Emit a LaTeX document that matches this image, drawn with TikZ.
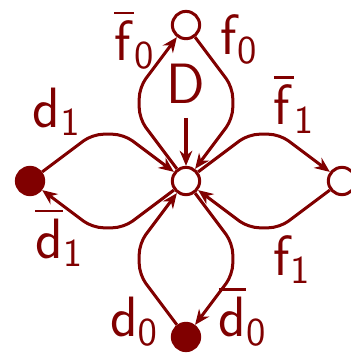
\documentclass[tikz,border=0pt]{standalone}
\usepackage{amsmath,amssymb}
\usepackage{exscale}
\usepackage{tikz}
\usetikzlibrary{positioning,arrows.meta,calc}
\definecolor{figred}{RGB}{128,0,0}
\tikzset{
  figstate/.style={circle, draw=figred, fill=white, line width=1.1pt,
    minimum size=3.5mm, inner sep=0pt},
  figfilled/.style={figstate, fill=figred},
  figarrow/.style={-{Stealth[length=5.5pt,width=4.6pt]}, line width=1.1pt,
    draw=figred, rounded corners=4pt},
  figlabel/.style={font=\huge, text=figred, inner sep=0pt, anchor=base west},
}

\begin{document}
\begin{tikzpicture}
  \useasboundingbox (-2.385,-2.244) rectangle (2.115,2.321);
  \node[figstate] (c) at (0,0) {};
  \node[figstate] (t) at (0,2) {};
  \node[figstate] (r) at (2,0) {};
  \node[figfilled] (l) at (-2,0) {};
  \node[figfilled] (b) at (0,-2) {};
  % D
  \node[figlabel, anchor=base] (dlab) at (0,1.0) {$\mathsf{D}$};
  \coordinate (din) at (0,0.81);
  \draw[figarrow] (din) -- (c);
  % d_1 / \bar d_1
  \draw[figarrow] (l) -- ++(0.8,0.6) -- ++(0.4,0) -- (c);
  \draw[figarrow] (c) -- ++(-0.8,-0.6) -- ++(-0.4,0) -- (l);
  \node[figlabel] (ld1) at (-1.97,0.69) {$\mathsf{d}_{\mathsf{1}}$};
  \node[figlabel] (ld1b) at (-1.94,-0.99) {$\overline{\mathsf{d}}_{\mathsf{1}}$};
  % f_0 / \bar f_0
  \draw[figarrow] (c) -- ++(-0.6,0.8) -- ++(0,0.4) -- (t);
  \draw[figarrow] (t) -- ++(0.6,-0.8) -- ++(0,-0.4) -- (c);
  \node[figlabel] (lf0b) at (-0.93,1.55) {$\overline{\mathsf{f}}_{\mathsf{0}}$};
  \node[figlabel] (lf0) at (0.44,1.62) {$\mathsf{f}_{\mathsf{0}}$};
  % f_1 / \bar f_1
  \draw[figarrow] (c) -- ++(0.8,0.6) -- ++(0.4,0) -- (r);
  \draw[figarrow] (r) -- ++(-0.8,-0.6) -- ++(-0.4,0) -- (c);
  \node[figlabel] (lf1b) at (1.12,0.72) {$\overline{\mathsf{f}}_{\mathsf{1}}$};
  \node[figlabel] (lf1) at (1.12,-1.21) {$\mathsf{f}_{\mathsf{1}}$};
  % d_0 / \bar d_0
  \draw[figarrow] (b) -- ++(-0.6,0.8) -- ++(0,0.4) -- (c);
  \draw[figarrow] (c) -- ++(0.6,-0.8) -- ++(0,-0.4) -- (b);
  \node[figlabel] (ld0) at (-0.98,-2.0) {$\mathsf{d}_{\mathsf{0}}$};
  \node[figlabel] (ld0b) at (0.41,-2.0) {$\overline{\mathsf{d}}_{\mathsf{0}}$};
\end{tikzpicture}
\end{document}
